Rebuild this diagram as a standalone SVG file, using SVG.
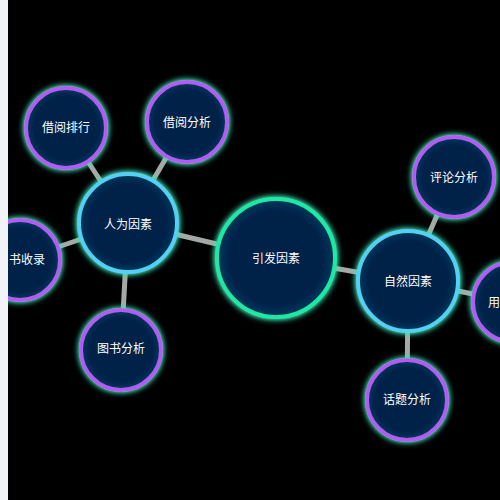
<svg xmlns="http://www.w3.org/2000/svg" width="500" height="500" viewBox="0 0 500 500">
<style>
.link{stroke:#a3aaa6;stroke-width:5;stroke-linecap:butt}
.n circle{fill:url(#nf);stroke-width:4;filter:url(#glow)}
.root circle{stroke:#1de9a4}
.mid circle{stroke:#52d0f4}
.leaf circle{stroke:#b35cf5}
text{font-family:"Noto Sans CJK SC","Noto Sans",sans-serif;font-size:12px;fill:#ffffff;text-anchor:middle;dominant-baseline:central}
</style>
<defs>
<radialGradient id="nf">
<stop offset="0.78" stop-color="#00204a"/>
<stop offset="1" stop-color="#073a5a"/>
</radialGradient>
<filter id="glow" x="-30%" y="-30%" width="160%" height="160%">
<feGaussianBlur in="SourceAlpha" stdDeviation="3"/>
<feComponentTransfer><feFuncA type="linear" slope="1.5"/></feComponentTransfer>
<feColorMatrix type="matrix" values="0 0 0 0 0.05  0 0 0 0 0.75  0 0 0 0 0.45  0 0 0 1 0"/>
<feMerge><feMergeNode/><feMergeNode in="SourceGraphic"/></feMerge>
</filter>
</defs>
<rect width="500" height="500" fill="#000"/>
<g id="links">
<line class="link" x1="276" y1="258" x2="128" y2="223"/>
<line class="link" x1="276" y1="258" x2="408" y2="281"/>
<line class="link" x1="128" y1="223" x2="66" y2="128"/>
<line class="link" x1="128" y1="223" x2="187" y2="122"/>
<line class="link" x1="128" y1="223" x2="20" y2="260"/>
<line class="link" x1="128" y1="223" x2="121" y2="350"/>
<line class="link" x1="408" y1="281" x2="454" y2="177"/>
<line class="link" x1="408" y1="281" x2="407" y2="400"/>
<line class="link" x1="408" y1="281" x2="513" y2="302"/>
</g>
<g id="node-root" class="n root"><circle cx="276" cy="258" r="59"/><text x="276" y="257">引发因素</text></g>
<g id="node-human" class="n mid"><circle cx="128" cy="223" r="49"/><text x="128" y="223">人为因素</text></g>
<g id="node-nature" class="n mid"><circle cx="408" cy="281" r="50"/><text x="408" y="280">自然因素</text></g>
<g id="node-rank" class="n leaf"><circle cx="66" cy="128" r="40"/><text x="66" y="126">借阅排行</text></g>
<g id="node-borrow" class="n leaf"><circle cx="187" cy="122" r="40"/><text x="187" y="121">借阅分析</text></g>
<g id="node-collect" class="n leaf"><circle cx="20" cy="260" r="40"/><text x="9" y="258" style="text-anchor:start">书收录</text></g>
<g id="node-book" class="n leaf"><circle cx="121" cy="350" r="40"/><text x="121" y="347">图书分析</text></g>
<g id="node-comment" class="n leaf"><circle cx="454" cy="177" r="40"/><text x="454" y="176">评论分析</text></g>
<g id="node-topic" class="n leaf"><circle cx="407" cy="400" r="40"/><text x="407" y="398">话题分析</text></g>
<g id="node-user" class="n leaf"><circle cx="513" cy="302" r="40"/><text x="488" y="301" style="text-anchor:start">用</text></g>
<rect x="0" y="0" width="8" height="500" fill="#f2f3f8"/>
</svg>
